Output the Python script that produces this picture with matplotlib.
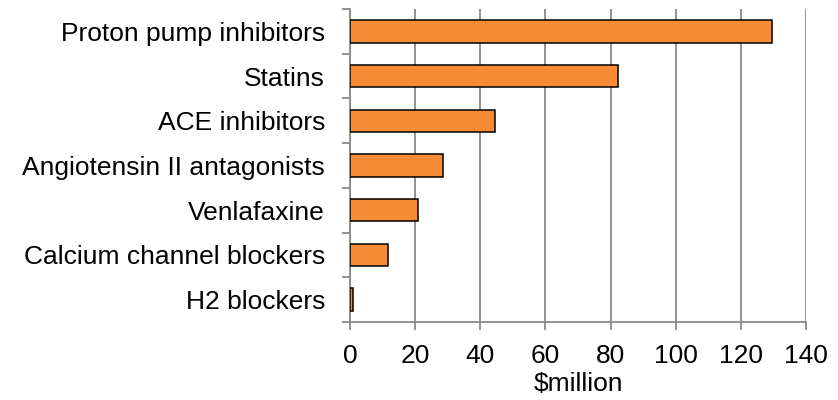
import matplotlib
matplotlib.use("Agg")
import matplotlib.pyplot as plt
import numpy as np

categories = ["Proton pump inhibitors", "Statins", "ACE inhibitors",
              "Angiotensin II antagonists", "Venlafaxine",
              "Calcium channel blockers", "H2 blockers"]
values = [129.6, 82.2, 44.6, 28.7, 21.0, 11.6, 1.0]
xticks = [0, 20, 40, 60, 80, 100, 120, 140]

plt.rcParams['font.family'] = ['Liberation Sans', 'DejaVu Sans']

fig = plt.figure(figsize=(8.38, 4.0), dpi=100)
ax = fig.add_axes([350/838, 1-322/400, (806-350)/838, (322-9)/400])

grid_c = '#8a8a8a'
fs = 19
y = np.arange(len(categories))
ax.barh(y, values, height=0.5, color='#F68D36', edgecolor='black', linewidth=1.1, zorder=3)

ax.set_xlim(0, 140)
ax.set_ylim(len(categories)-0.5, -0.5)
ax.set_xticks(xticks)
ax.set_xticklabels([str(t) for t in xticks], fontsize=fs)
ax.set_yticks(y)
ax.set_yticklabels(categories, fontsize=fs)
ax.set_yticks(np.arange(-0.5, len(categories)), minor=True)

ax.tick_params(axis='y', which='major', length=0, pad=18)
ax.tick_params(axis='y', which='minor', length=5.5, width=1.3, color=grid_c)
ax.tick_params(axis='x', which='major', length=6, width=1.3, color=grid_c, pad=10)

ax.xaxis.grid(True, color=grid_c, linewidth=1.3, zorder=0)
ax.set_axisbelow(True)
for s in ['top', 'right']:
    ax.spines[s].set_visible(False)
for s in ['left', 'bottom']:
    ax.spines[s].set_color(grid_c)
    ax.spines[s].set_linewidth(1.3)

ax.set_xlabel("$million", fontsize=fs, labelpad=3)

fig.savefig("out.png", dpi=100)
